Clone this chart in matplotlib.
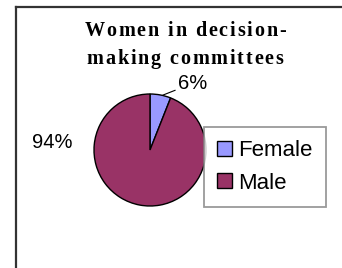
import matplotlib
matplotlib.use("Agg")
import matplotlib.pyplot as plt
from matplotlib.lines import Line2D
from matplotlib.patches import Patch
from matplotlib.font_manager import FontProperties, findfont
from matplotlib.ft2font import FT2Font

categories = ["Female", "Male"]
values = [6, 94]
pct_labels = ["6%", "94%"]
title_lines = ["Women in decision-", "making committees"]
colors = ["#9999FF", "#993366"]

W, H = 342, 268
DPI = 100
fig = plt.figure(figsize=(W / DPI, H / DPI), dpi=DPI)

# outer frame (top and left edges visible)
fig.add_artist(Line2D([15.5 / W, 1.0], [1 - 7 / H, 1 - 7 / H], color="#333333", lw=1.6))
fig.add_artist(Line2D([15.5 / W, 15.5 / W], [1 - 7 / H, 0.0], color="#333333", lw=1.6))

# pie axes: centre (150,150) px from top, radius 56 px
cx, cy, r = 150, 150, 56
ax = fig.add_axes([(cx - r) / W, (H - cy - r) / H, 2 * r / W, 2 * r / H])
wedges, _ = ax.pie(values, colors=colors, startangle=90, counterclock=False,
                   radius=1.0, wedgeprops=dict(edgecolor="black", linewidth=1.0))
ax.set_xlim(-1, 1)
ax.set_ylim(-1, 1)
ax.set_aspect("auto")

arial = "Liberation Sans"
ax.annotate(pct_labels[0], xy=(0.23, 0.98), xytext=(0.50, 1.19),
            fontsize=14.5, family=arial, ha="left", va="center",
            arrowprops=dict(arrowstyle="-", color="black", lw=0.8,
                            shrinkA=0, shrinkB=0))
ax.text(-1.75, 0.13, pct_labels[1], fontsize=14.5, family=arial,
        ha="center", va="center")

# title with letter spacing
tsize = 14.5
fp = FontProperties(family="Liberation Serif", weight="bold", size=tsize)
font = FT2Font(findfont(fp))
font.set_size(tsize, DPI)
spacing = 1.85
baselines = [36, 64]
for line, base in zip(title_lines, baselines):
    advs = []
    for ch in line:
        g = font.load_char(ord(ch))
        advs.append(g.linearHoriAdvance / 65536.0)
    total = sum(advs) + spacing * (len(line) - 1)
    x = 185 - total / 2
    for ch, a in zip(line, advs):
        fig.text(x / W, 1 - base / H, ch, fontproperties=fp,
                 ha="left", va="baseline")
        x += a + spacing

# legend
handles = [Patch(facecolor=c, edgecolor="black", linewidth=1.0) for c in colors]
leg = fig.legend(handles, categories, loc="center",
                 bbox_to_anchor=(265 / W, 1 - 167 / H),
                 prop=FontProperties(family=arial, size=16),
                 frameon=True, fancybox=False, edgecolor="#808080",
                 handlelength=0.68, handleheight=0.68, handletextpad=0.28,
                 labelspacing=0.5, borderpad=0.6, borderaxespad=0)
leg.get_frame().set_linewidth(1.3)

fig.savefig("out.png", dpi=DPI)
